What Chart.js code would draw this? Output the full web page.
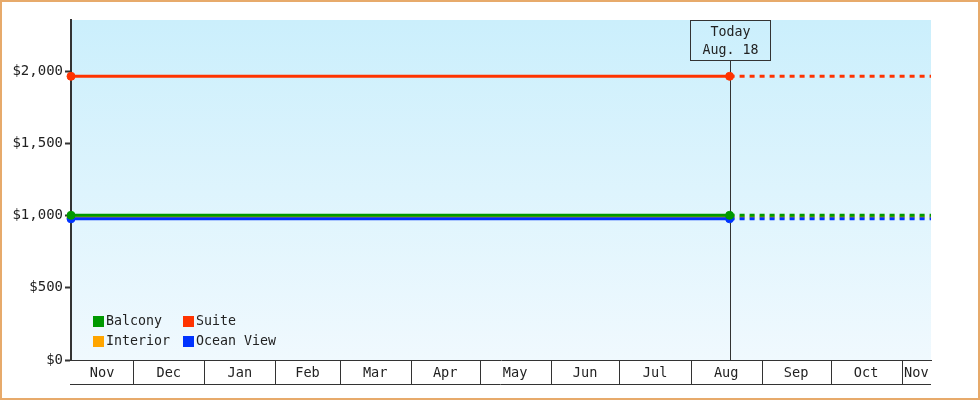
<!DOCTYPE html>
<html>
<head>
<meta charset="utf-8">
<script src="https://cdn.jsdelivr.net/npm/chart.js@4.4.1/dist/chart.umd.min.js"></script>
<style>
  html, body { margin: 0; padding: 0; background: #fff; }
  #wrap { position: relative; width: 980px; height: 400px; }
  #c { position: absolute; left: 0; top: 0; }
  #frame { position: absolute; left: 0; top: 0; width: 980px; height: 400px; box-sizing: border-box; border: 2px solid #e7aa6b; pointer-events: none; }
</style>
</head>
<body>
<div id="wrap">
  <canvas id="c" width="980" height="400"></canvas>
  <div id="frame"></div>
</div>
<script>
// ---- data ----
const startDate = "2022-11-03T21:30:00Z";
const endDate = "2023-11-13T19:00:00Z";
const todayDate = "2023-08-18T00:00:00Z";
const todayLabel = ["Today", "Aug. 18"];

const monthStarts = ["2022-12-01", "2023-01-01", "2023-02-01", "2023-03-01", "2023-04-01", "2023-05-01",
                     "2023-06-01", "2023-07-01", "2023-08-01", "2023-09-01", "2023-10-01", "2023-11-01"];
const monthLabels = ["Nov", "Dec", "Jan", "Feb", "Mar", "Apr", "May", "Jun", "Jul", "Aug", "Sep", "Oct", "Nov"];

const seriesNames  = ["Suite", "Balcony", "Ocean View", "Interior"];
const seriesValues = [1965, 1002, 978, 990];
const seriesColors = ["#ff3300", "#009900", "#0033ff", "#ffa500"];

const legendRow1 = ["Balcony", "Suite"];
const legendRow2 = ["Interior", "Ocean View"];

const yTicks = [0, 500, 1000, 1500, 2000];
const yMax = 2355;

// ---- helpers ----
const t0 = Date.parse(startDate);
function dayOf(s) {
  const t = Date.parse(s.length <= 10 ? s + "T00:00:00Z" : s);
  return (t - t0) / 86400000;
}
const endDay = dayOf(endDate);
const todayDay = dayOf(todayDate);
const boundaries = [0].concat(monthStarts.map(dayOf)).concat([endDay]);

const FAMILY = '"DejaVu Sans Mono", monospace';
const FONT_SMALL = '13.3px ' + FAMILY;
const FONT_MONTH = '13.6px ' + FAMILY;
const INK = '#333';
const drawOrder = ["Interior", "Ocean View", "Balcony", "Suite"];

const datasets = seriesNames.map((name, i) => ({
  label: name,
  data: [{x: 0, y: seriesValues[i]}, {x: todayDay, y: seriesValues[i]}, {x: endDay, y: seriesValues[i]}],
  borderColor: seriesColors[i],
  backgroundColor: seriesColors[i],
  borderWidth: 3,
  pointRadius: ctx => ctx.dataIndex < 2 ? 4 : 0,
  pointBorderWidth: 1,
  pointHoverRadius: 4,
  clip: false,
  segment: { borderDash: ctx => ctx.p0DataIndex >= 1 ? [5, 5] : undefined },
  order: 4 - drawOrder.indexOf(name)
}));

const bgPlugin = {
  id: 'bg',
  beforeDraw(chart) {
    const {ctx, chartArea: a} = chart;
    const g = ctx.createLinearGradient(0, a.top, 0, a.bottom);
    g.addColorStop(0, '#cbeffc');
    g.addColorStop(1, '#f0f9fe');
    ctx.save();
    ctx.fillStyle = g;
    ctx.fillRect(a.left, a.top, a.right - a.left, a.bottom - a.top);
    ctx.restore();
  }
};

const xBandPlugin = {
  id: 'xband',
  afterDraw(chart) {
    const {ctx, chartArea: a} = chart;
    const xs = chart.scales.x;
    ctx.save();
    ctx.strokeStyle = INK;
    ctx.lineWidth = 1;
    ctx.beginPath();
    for (let i = 1; i < boundaries.length - 1; i++) {
      const px = Math.round(xs.getPixelForValue(boundaries[i])) + 0.5;
      ctx.moveTo(px, a.bottom);
      ctx.lineTo(px, a.bottom + 25);
    }
    ctx.moveTo(a.left - 1, a.bottom + 24.5);
    ctx.lineTo(a.right, a.bottom + 24.5);
    ctx.stroke();
    ctx.fillStyle = '#222';
    ctx.font = FONT_MONTH;
    ctx.textAlign = 'center';
    ctx.textBaseline = 'middle';
    for (let i = 0; i < monthLabels.length; i++) {
      const x0 = xs.getPixelForValue(boundaries[i]);
      const x1 = xs.getPixelForValue(boundaries[i + 1]);
      ctx.fillText(monthLabels[i], (x0 + x1) / 2, a.bottom + 13);
    }
    ctx.restore();
  }
};

const todayPlugin = {
  id: 'today',
  beforeDatasetsDraw(chart) {
    const {ctx, chartArea: a} = chart;
    const px = Math.round(chart.scales.x.getPixelForValue(todayDay)) + 0.5;
    const bw = 80, bh = 40;
    ctx.save();
    ctx.strokeStyle = INK;
    ctx.lineWidth = 1;
    ctx.beginPath();
    ctx.moveTo(px, a.top + bh);
    ctx.lineTo(px, a.bottom);
    ctx.stroke();
    ctx.strokeRect(px - bw / 2, a.top + 0.5, bw, bh);
    ctx.fillStyle = '#222';
    ctx.font = FONT_SMALL;
    ctx.textAlign = 'center';
    ctx.textBaseline = 'middle';
    ctx.fillText(todayLabel[0], px, a.top + 13);
    ctx.fillText(todayLabel[1], px, a.top + 31);
    ctx.restore();
  }
};

const legendPlugin = {
  id: 'customLegend',
  afterDraw(chart) {
    const {ctx, chartArea: a} = chart;
    ctx.save();
    ctx.font = FONT_SMALL;
    ctx.textBaseline = 'middle';
    ctx.textAlign = 'left';
    const rows = [legendRow1, legendRow2];
    rows.forEach((row, r) => {
      const y = a.bottom - 44 + r * 20;
      row.forEach((name, c) => {
        const x = a.left + 22 + c * 90;
        ctx.fillStyle = seriesColors[seriesNames.indexOf(name)];
        ctx.fillRect(x, y, 11, 11);
        ctx.fillStyle = '#222';
        ctx.fillText(name, x + 13, y + 5.5);
      });
    });
    ctx.restore();
  }
};

new Chart(document.getElementById('c'), {
  type: 'line',
  data: { datasets },
  plugins: [bgPlugin, todayPlugin, xBandPlugin, legendPlugin],
  options: {
    responsive: false,
    animation: false,
    devicePixelRatio: 1,
    layout: { padding: { top: 20, right: 49, left: 0, bottom: 0 } },
    plugins: { legend: { display: false }, tooltip: { enabled: false } },
    scales: {
      x: {
        type: 'linear',
        min: 0,
        max: endDay,
        grid: { display: false },
        ticks: { display: false },
        border: { display: true, color: INK, width: 1 },
        afterFit(s) { s.height = 40; }
      },
      y: {
        min: 0,
        max: yMax,
        afterBuildTicks(s) { s.ticks = yTicks.map(v => ({ value: v })); },
        grid: { drawOnChartArea: false, drawTicks: true, tickLength: 6, color: INK, tickWidth: 2 },
        border: { display: true, color: INK, width: 2 },
        ticks: {
          color: '#222',
          font: { family: FAMILY, size: 14 },
          padding: 2,
          callback: v => '$' + v.toLocaleString('en-US')
        },
        afterFit(s) { s.width = 71; }
      }
    }
  }
});
</script>
</body>
</html>
